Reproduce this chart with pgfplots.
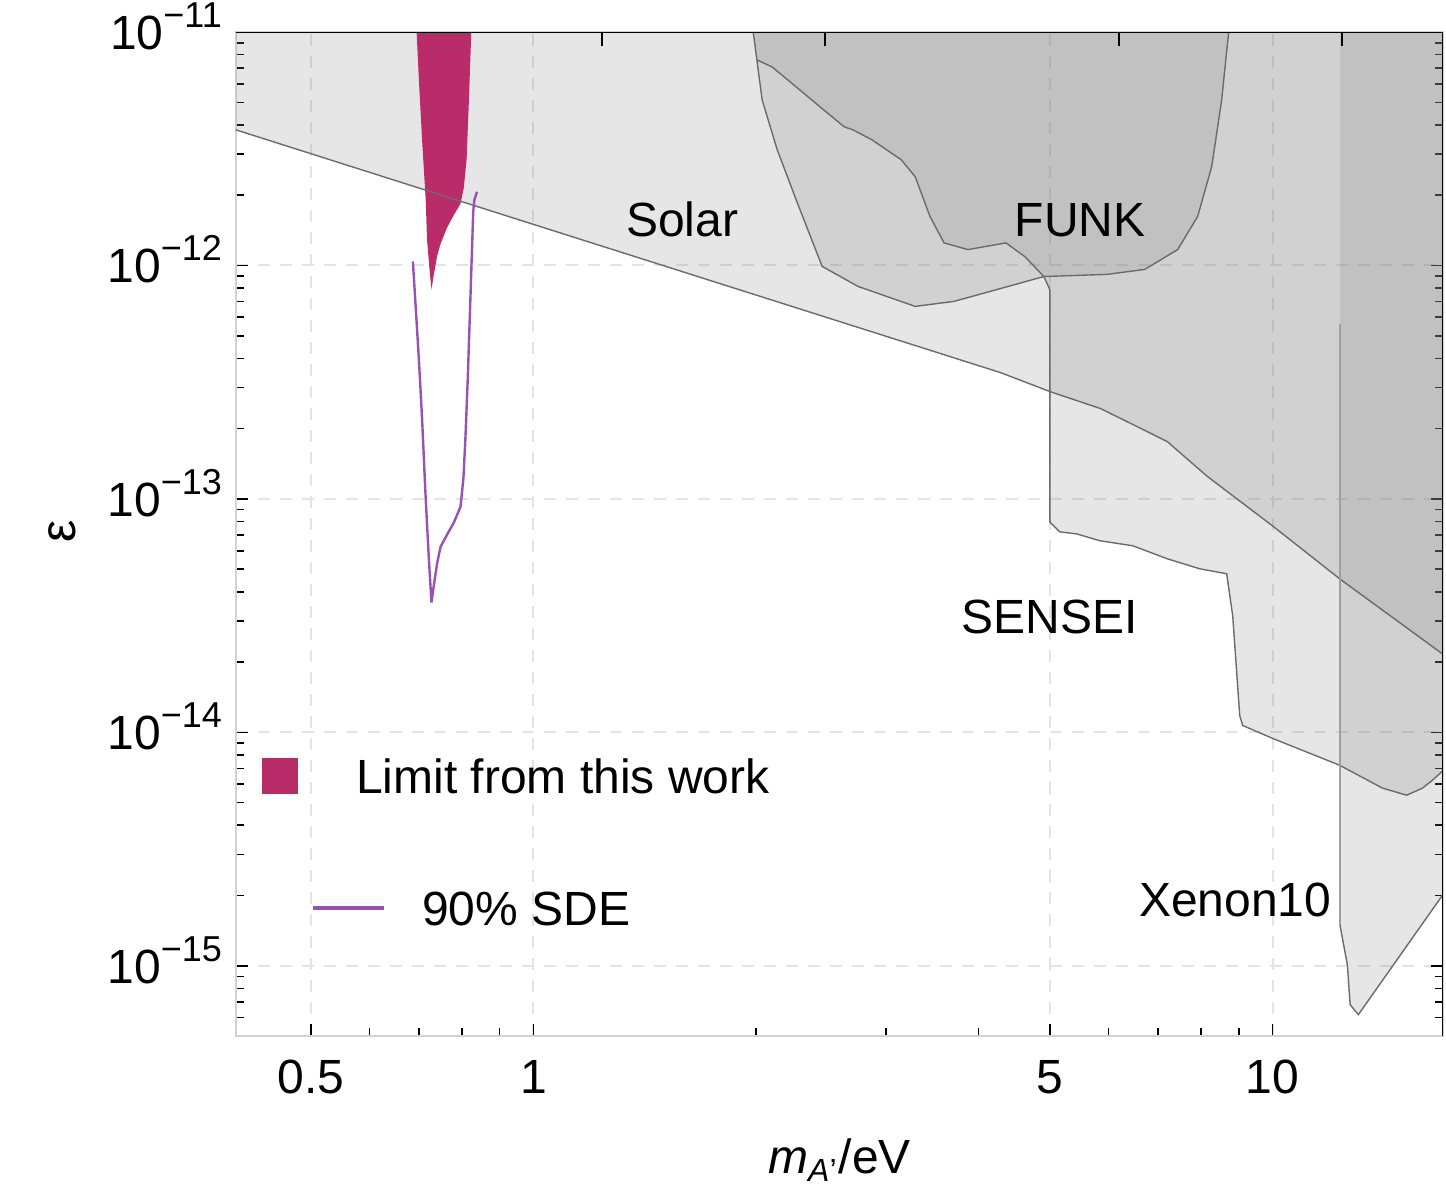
\documentclass[border=0pt]{standalone}
\usepackage{pgfplots}
\pgfplotsset{compat=1.18}
\usepackage{fontspec}
\setmainfont{Liberation Sans}

\definecolor{limitred}{RGB}{186,43,105}
\definecolor{sdepurple}{RGB}{150,82,182}
\definecolor{bound}{gray}{0.42}

% power-of-ten tick label in the text font
\newcommand{\tenpow}[1]{10\raisebox{5.5pt}{\fontsize{9}{10}\selectfont −#1}}

\begin{document}
\begin{tikzpicture}
\begin{axis}[
  name=main,
  scale only axis, width=301.75pt, height=251pt,
  xmode=log, ymode=log,
  xmin=0.396, xmax=17, ymin=5e-16, ymax=1e-11,
  xtick={0.5,1,5,10}, xticklabels={0.5,1,5,10},
  minor xtick={0.6,0.7,0.8,0.9,2,3,4,6,7,8,9},
  ytick={1e-15,1e-14,1e-13,1e-12,1e-11},
  yticklabels={{\tenpow{15}},{\tenpow{14}},{\tenpow{13}},{\tenpow{12}},{\tenpow{11}}},
  minor ytick={6e-16,7e-16,8e-16,9e-16,
    2e-15,3e-15,4e-15,5e-15,6e-15,7e-15,8e-15,9e-15,
    2e-14,3e-14,4e-14,5e-14,6e-14,7e-14,8e-14,9e-14,
    2e-13,3e-13,4e-13,5e-13,6e-13,7e-13,8e-13,9e-13,
    2e-12,3e-12,4e-12,5e-12,6e-12,7e-12,8e-12,9e-12},
  xtick pos=left, ytick pos=both,
  tick align=inside,
  major tick length=3pt, minor tick length=2pt,
  tick style={black, line width=0.4pt},
  axis line style={gray!35, line width=0.5pt},
  grid=major,
  major grid style={gray!22, line width=0.5pt, dash pattern=on 3pt off 2.5pt},
  font=\fontsize{12}{14}\selectfont,
  ticklabel style={font=\fontsize{12}{14}\selectfont},
  xticklabel style={yshift=-2.5pt},
  yticklabel style={anchor=base east, yshift=-4.3pt},
  xlabel={\textit{m}\textsubscript{\textit{A}'}/eV},
  xlabel style={at={(axis description cs:0.5,-0.1235)}, anchor=center},
  ylabel={ε},
  ylabel style={at={(axis description cs:-0.144,0.503)}, anchor=center, font=\fontsize{12.5}{14}\selectfont},
  legend cell align=left,
  legend style={at={(axis description cs:0.0198,0.285)}, anchor=north west,
    draw=none, fill=none, inner sep=0pt, row sep=20.4pt,
    nodes={inner sep=0pt, text height=10.6pt, text depth=2pt, font=\fontsize{12}{14}\selectfont}},
  exclusion/.style={fill=gray, fill opacity=0.2, draw=none, forget plot},
  edge/.style={draw=bound, line width=0.35pt, forget plot},
]

% Solar bound
\addplot[exclusion] coordinates {
  (0.396,3.81e-12) (1,1.50e-12) (4.28,3.48e-13) (5.003,2.88e-13)
  (5.846,2.44e-13) (6.478,2.08e-13) (7.203,1.76e-13) (8.155,1.25e-13)
  (10.02,7.62e-14) (12.34,4.53e-14) (17,2.16e-14) (17,1e-11) (0.396,1e-11)};

% FUNK
\addplot[exclusion] coordinates {
  (1.983,1e-11) (2.039,5.12e-12) (2.137,3.13e-12) (2.267,1.91e-12)
  (2.458,9.91e-13) (2.750,8.13e-13) (3.284,6.68e-13) (3.707,7.02e-13)
  (4.237,7.89e-13) (4.904,8.97e-13) (5.967,9.16e-13) (6.714,9.62e-13)
  (7.440,1.17e-12) (7.917,1.62e-12) (8.271,2.65e-12) (8.532,5.12e-12)
  (8.641,7.59e-12) (8.721,1e-11)};

% SENSEI
\addplot[exclusion] coordinates {
  (1.985,1e-11) (2.008,7.59e-12) (2.104,7.08e-12) (2.267,5.82e-12)
  (2.442,4.78e-12) (2.632,3.93e-12) (2.706,3.81e-12) (2.872,3.45e-12)
  (3.144,2.84e-12) (3.284,2.40e-12) (3.440,1.62e-12) (3.593,1.25e-12)
  (3.871,1.17e-12) (4.237,1.23e-12) (4.357,1.25e-12) (4.623,1.09e-12)
  (4.904,8.97e-13) (4.995,7.89e-13) (4.995,7.98e-14) (5.153,7.23e-14)
  (5.435,7.08e-14) (5.837,6.62e-14) (6.469,6.30e-14) (7.191,5.55e-14)
  (7.969,5.02e-14) (8.666,4.78e-14) (8.830,3.16e-14) (9.025,1.18e-14)
  (9.110,1.07e-14) (10.0,9.42e-15) (12.32,7.23e-15) (14.08,5.77e-15)
  (15.18,5.38e-15) (15.95,5.77e-15) (16.45,6.24e-15) (17,6.85e-15)
  (17,1e-11)};

% Xenon10
\addplot[exclusion] coordinates {
  (12.33,1e-11) (12.33,1.50e-15) (12.62,1.01e-15) (12.73,6.81e-16)
  (13.06,6.18e-16) (17,2.02e-15) (17,1e-11)};

% limit from this work
\addplot[fill=limitred, draw=none,
  legend image code/.code={\path (0pt,0pt);
    \fill[limitred, overlay] (0pt,-4.4pt) rectangle (9pt,4.4pt);}]
  coordinates {
  (0.695,1e-11) (0.700,6.24e-12) (0.707,3.45e-12) (0.715,1.91e-12)
  (0.718,1.29e-12) (0.724,9.42e-13) (0.728,7.89e-13) (0.733,9.06e-13)
  (0.741,1.10e-12) (0.749,1.24e-12) (0.764,1.45e-12) (0.780,1.64e-12)
  (0.797,1.84e-12) (0.805,2.15e-12) (0.812,2.84e-12) (0.818,5.12e-12)
  (0.824,1e-11)};
\addlegendentry{\hspace*{23.25pt}Limit from this work}

% boundary curves
\addplot[edge] coordinates {
  (0.396,3.81e-12) (1,1.50e-12) (4.28,3.48e-13) (5.003,2.88e-13)
  (5.846,2.44e-13) (6.478,2.08e-13) (7.203,1.76e-13) (8.155,1.25e-13)
  (10.02,7.62e-14) (12.34,4.53e-14) (17,2.16e-14)};
\addplot[edge] coordinates {
  (1.983,1e-11) (2.039,5.12e-12) (2.137,3.13e-12) (2.267,1.91e-12)
  (2.458,9.91e-13) (2.750,8.13e-13) (3.284,6.68e-13) (3.707,7.02e-13)
  (4.237,7.89e-13) (4.904,8.97e-13) (5.967,9.16e-13) (6.714,9.62e-13)
  (7.440,1.17e-12) (7.917,1.62e-12) (8.271,2.65e-12) (8.532,5.12e-12)
  (8.641,7.59e-12) (8.721,1e-11)};
\addplot[edge] coordinates {
  (2.008,7.59e-12) (2.104,7.08e-12) (2.267,5.82e-12)
  (2.442,4.78e-12) (2.632,3.93e-12) (2.706,3.81e-12) (2.872,3.45e-12)
  (3.144,2.84e-12) (3.284,2.40e-12) (3.440,1.62e-12) (3.593,1.25e-12)
  (3.871,1.17e-12) (4.237,1.23e-12) (4.357,1.25e-12) (4.623,1.09e-12)
  (4.904,8.97e-13) (4.995,7.89e-13) (4.995,7.98e-14) (5.153,7.23e-14)
  (5.435,7.08e-14) (5.837,6.62e-14) (6.469,6.30e-14) (7.191,5.55e-14)
  (7.969,5.02e-14) (8.666,4.78e-14) (8.830,3.16e-14) (9.025,1.18e-14)
  (9.110,1.07e-14) (10.0,9.42e-15) (12.32,7.23e-15) (14.08,5.77e-15)
  (15.18,5.38e-15) (15.95,5.77e-15) (16.45,6.24e-15) (17,6.85e-15)};
\addplot[draw=gray!75, line width=0.65pt, forget plot] coordinates {
  (12.33,5.60e-13) (12.33,1.50e-15)};
\addplot[edge] coordinates {
  (12.33,1.50e-15) (12.62,1.01e-15) (12.73,6.81e-16)
  (13.06,6.18e-16) (17,2.02e-15)};

% 90% SDE contour
\addplot[sdepurple, line width=0.6pt,
  legend image code/.code={\path (0pt,0pt);
    \draw[sdepurple, line width=1pt, overlay] (12.75pt,0pt) -- (30.5pt,0pt);}]
  coordinates {
  (0.687,1.04e-12) (0.692,7.16e-13) (0.700,3.96e-13) (0.707,2.20e-13)
  (0.715,1.0e-13) (0.722,5.55e-14) (0.728,3.60e-14) (0.733,4.21e-14)
  (0.741,5.32e-14) (0.749,6.24e-14) (0.764,7.02e-14) (0.780,7.89e-14)
  (0.797,9.25e-14) (0.804,1.22e-13) (0.809,1.80e-13) (0.815,3.26e-13)
  (0.820,5.87e-13) (0.825,1.06e-12) (0.829,1.70e-12) (0.832,1.91e-12)
  (0.839,2.07e-12)};
\addlegendentry{\hspace*{39.75pt}90\% SDE}

% region names
\node at (axis cs:1.59,1.57e-12) {Solar};
\node at (axis cs:5.49,1.57e-12) {FUNK};
\node at (axis cs:4.99,3.11e-14) {SENSEI};
\node at (axis cs:8.90,1.91e-15) {Xenon10};

% unlabelled wavelength ticks (1000, 500, 200, 100 nm) hanging from the upper edge
\pgfplotsinvokeforeach{1.24,2.48,6.2,12.4}{
  \draw[black, line width=0.5pt] (axis cs:#1,1e-11) -- ++(0pt,-3.5pt);
}

% dark upper and right frame
\draw[black, line width=0.7pt] (rel axis cs:0,1) -- (rel axis cs:1,1) -- (rel axis cs:1,0);
\end{axis}

\pgfresetboundingbox
\path[use as bounding box] ([xshift=-59pt,yshift=-37.5pt]main.south west)
  rectangle ([xshift=0.75pt,yshift=8pt]main.north east);
\end{tikzpicture}
\end{document}
